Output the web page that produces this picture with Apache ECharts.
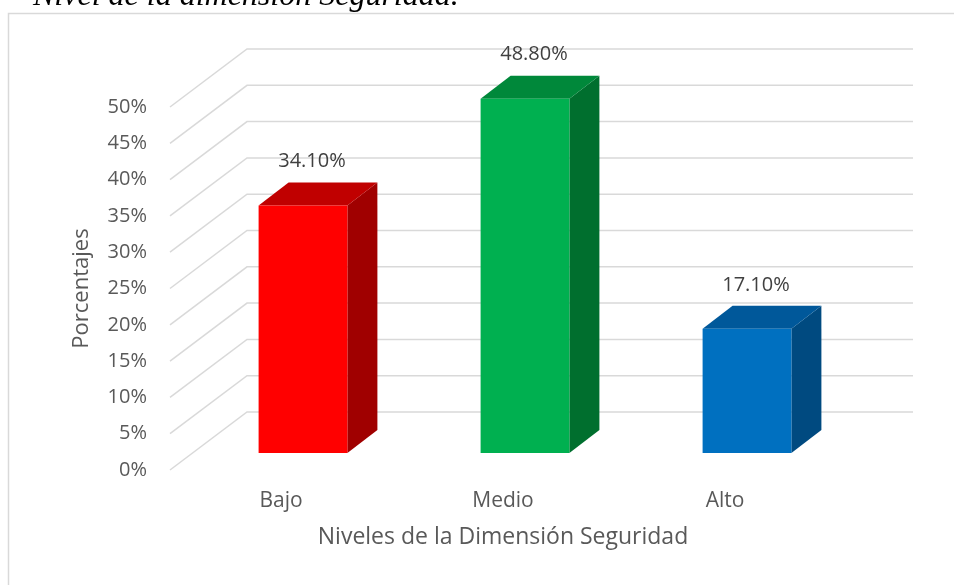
<!DOCTYPE html>
<html>
<head>
<meta charset="utf-8">
<script src="https://cdn.jsdelivr.net/npm/echarts@6/dist/echarts.min.js"></script>
<style>
html,body{margin:0;padding:0;background:#fff;}
#chart{width:954px;height:585px;}
</style>
</head>
<body>
<div id="chart"></div>
<script>
const titleText = 'Nivel de la dimensión Seguridad.';
const categories = ['Bajo', 'Medio', 'Alto'];
const values = [34.1, 48.8, 17.1];
const valueLabels = ['34.10%', '48.80%', '17.10%'];
const yTicks = [0, 5, 10, 15, 20, 25, 30, 35, 40, 45, 50];
const xAxisTitle = 'Niveles de la Dimensión Seguridad';
const yAxisTitle = 'Porcentajes';

const faceColors = [
  {front: '#FF0000', top: '#C00000', side: '#A00000'},
  {front: '#00B050', top: '#00883A', side: '#006F2E'},
  {front: '#0070C0', top: '#00589A', side: '#004A80'}
];

const DEPTH = [77, -58];       // full wall depth
const BAR_OFF = [22, -17];     // front face offset of bars
const BAR_DEPTH = [30, -23];   // bar depth
const FONT = '"Open Sans", "Noto Sans", sans-serif';

const chart = echarts.init(document.getElementById('chart'), null, {renderer: 'canvas'});

chart.setOption({
  animation: false,
  backgroundColor: '#fff',
  grid: {left: 170, right: 118, top: 107, bottom: 115},
  xAxis: {
    type: 'category',
    data: categories,
    axisLine: {show: false},
    axisTick: {show: false},
    axisLabel: {color: '#595959', fontSize: 21, fontFamily: FONT, margin: 21},
    name: xAxisTitle,
    nameLocation: 'middle',
    nameGap: 56,
    nameTextStyle: {color: '#595959', fontSize: 23, fontFamily: FONT}
  },
  yAxis: {
    type: 'value',
    min: 0,
    max: 50,
    interval: 5,
    axisLine: {show: false},
    axisTick: {show: false},
    splitLine: {show: false},
    axisLabel: {color: '#595959', fontSize: 20, fontFamily: FONT, margin: 23, formatter: '{value}%'},
    name: yAxisTitle,
    nameLocation: 'middle',
    nameGap: 77,
    nameRotate: 90,
    nameTextStyle: {color: '#595959', fontSize: 22, fontFamily: FONT}
  },
  graphic: [
    {
      type: 'rect', silent: true, z: -10,
      shape: {x: 8.5, y: 13.5, width: 1200, height: 1200},
      style: {fill: 'none', stroke: '#D9D9D9', lineWidth: 1.5}
    },
    {
      type: 'text', silent: true,
      style: {
        text: titleText, x: 33, y: -3,
        font: 'italic 32px "Liberation Serif", "DejaVu Serif", serif',
        fill: '#000', verticalAlign: 'middle', align: 'left'
      }
    }
  ],
  series: [
    {
      type: 'custom',
      z: 1,
      silent: true,
      data: yTicks.map(v => [0, v]),
      renderItem: function (params, api) {
        const cs = params.coordSys;
        const y = api.coord([0, api.value(1)])[1];
        const x0 = cs.x;
        const x1 = cs.x + cs.width;
        return {
          type: 'polyline',
          shape: {points: [[x0, y], [x0 + DEPTH[0], y + DEPTH[1]], [x1 + DEPTH[0], y + DEPTH[1]]]},
          style: {stroke: '#D9D9D9', lineWidth: 1.5, fill: null}
        };
      }
    },
    {
      type: 'custom',
      z: 5,
      data: values.map((v, i) => [i, v]),
      renderItem: function (params, api) {
        const i = api.value(0);
        const v = api.value(1);
        const top = api.coord([i, v]);
        const base = api.coord([i, 0]);
        const band = api.size([1, 0])[0];
        const w = band * 0.4;
        const cx = top[0] + BAR_OFF[0];
        const xl = cx - w / 2, xr = cx + w / 2;
        const yt = top[1] + BAR_OFF[1];
        const yb = base[1] + BAR_OFF[1];
        const dx = BAR_DEPTH[0], dy = BAR_DEPTH[1];
        const c = faceColors[i];
        return {
          type: 'group',
          children: [
            {type: 'polygon', shape: {points: [[xr, yt], [xr + dx, yt + dy], [xr + dx, yb + dy], [xr, yb]]}, style: {fill: c.side}},
            {type: 'polygon', shape: {points: [[xl, yt], [xl + dx, yt + dy], [xr + dx, yt + dy], [xr, yt]]}, style: {fill: c.top}},
            {type: 'rect', shape: {x: xl, y: yt, width: w, height: yb - yt}, style: {fill: c.front}},
            {type: 'text', style: {
              text: valueLabels[i], x: cx + 9, y: yt + dy - 21,
              align: 'center', verticalAlign: 'middle',
              font: '20px ' + FONT, fill: '#404040'
            }}
          ]
        };
      }
    }
  ]
});
</script>
</body>
</html>
